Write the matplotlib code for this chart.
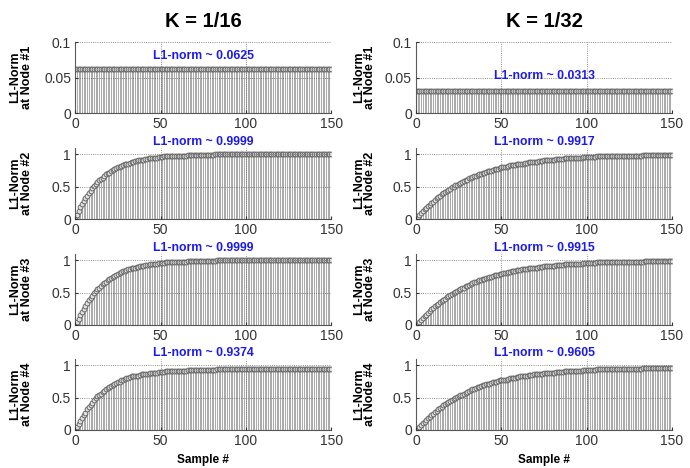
import numpy as np
import matplotlib.pyplot as plt

plt.rcParams['font.family'] = ['Liberation Sans', 'DejaVu Sans']

# ------------ L1-norm per node, sample index 0..150
samples = np.arange(151)

# K = 1/16
k16_node1 = [0.0625] * 151
k16_node2 = ([0.00, 0.06, 0.12, 0.18, 0.23, 0.28, 0.32, 0.36, 0.40, 0.44,
              0.48, 0.51, 0.54, 0.57, 0.60, 0.62, 0.64, 0.67, 0.69, 0.71,
              0.72, 0.74, 0.76, 0.77, 0.79, 0.80, 0.81, 0.82, 0.84, 0.85,
              0.86, 0.86, 0.87, 0.88, 0.89, 0.90, 0.90, 0.91, 0.91, 0.92,
              0.92, 0.93, 0.93, 0.94, 0.94, 0.94, 0.95, 0.95, 0.95, 0.96,
              0.96, 0.96, 0.97, 0.97, 0.97, 0.97, 0.97, 0.97, 0.98, 0.98,
              0.98, 0.98, 0.98, 0.98, 0.98, 0.98]
             + [0.99] * 16 + [1.00] * 69)
k16_node3 = ([0.00, 0.04, 0.10, 0.15, 0.20, 0.25, 0.29, 0.34, 0.38, 0.42,
              0.45, 0.49, 0.52, 0.55, 0.58, 0.60, 0.63, 0.65, 0.67, 0.69,
              0.71, 0.73, 0.75, 0.76, 0.78, 0.79, 0.80, 0.82, 0.83, 0.84,
              0.85, 0.86, 0.87, 0.88, 0.88, 0.89, 0.90, 0.90, 0.91, 0.92,
              0.92, 0.93, 0.93, 0.93, 0.94, 0.94, 0.95, 0.95, 0.95, 0.96,
              0.96, 0.96, 0.96, 0.97, 0.97, 0.97, 0.97, 0.97, 0.98, 0.98,
              0.98, 0.98, 0.98, 0.98, 0.98, 0.98]
             + [0.99] * 17 + [1.00] * 68)
k16_node4 = ([0.00, 0.04, 0.09, 0.14, 0.19, 0.23, 0.27, 0.32, 0.36, 0.39,
              0.42, 0.46, 0.49, 0.52, 0.54, 0.56, 0.59, 0.61, 0.63, 0.65,
              0.67, 0.68, 0.70, 0.71, 0.73, 0.74, 0.75, 0.77, 0.78, 0.79,
              0.80, 0.81, 0.82, 0.83, 0.83, 0.83, 0.84, 0.84, 0.85, 0.86,
              0.86, 0.87, 0.87, 0.87, 0.88, 0.88, 0.89, 0.89, 0.89, 0.90,
              0.90, 0.90, 0.90, 0.91, 0.91, 0.91, 0.91, 0.91, 0.92, 0.92,
              0.92, 0.92, 0.92, 0.92, 0.92, 0.92]
             + [0.93] * 17 + [0.94] * 68)

# K = 1/32
k32_node1 = [0.03125] * 151
k32_node2 = ([0.00, 0.03, 0.06, 0.09, 0.12, 0.15, 0.17, 0.20, 0.22, 0.25,
              0.27, 0.30, 0.32, 0.34, 0.36, 0.38, 0.40, 0.42, 0.44, 0.45,
              0.47, 0.49, 0.50, 0.52, 0.53, 0.55, 0.56, 0.58, 0.59, 0.60,
              0.61, 0.63, 0.64, 0.65, 0.66, 0.67, 0.68, 0.69, 0.70, 0.71,
              0.72, 0.73, 0.74, 0.74, 0.75, 0.76, 0.77, 0.77, 0.78, 0.79,
              0.80, 0.80, 0.81, 0.81, 0.82, 0.83, 0.83, 0.84, 0.84, 0.85,
              0.85, 0.86, 0.86, 0.86, 0.87, 0.87, 0.88, 0.88, 0.88, 0.89,
              0.89, 0.89, 0.90, 0.90, 0.90, 0.91, 0.91, 0.91, 0.92, 0.92,
              0.92, 0.92, 0.93, 0.93, 0.93, 0.93, 0.93, 0.94, 0.94, 0.94,
              0.94, 0.94, 0.95, 0.95, 0.95, 0.95, 0.95, 0.95, 0.96, 0.96,
              0.96, 0.96, 0.96, 0.96, 0.96, 0.96, 0.97, 0.97, 0.97, 0.97,
              0.97, 0.97, 0.97, 0.97, 0.97, 0.97, 0.97]
             + [0.98] * 16 + [0.99] * 18)
k32_node3 = ([0.00, 0.02, 0.05, 0.08, 0.11, 0.14, 0.16, 0.19, 0.21, 0.24,
              0.26, 0.29, 0.31, 0.33, 0.35, 0.37, 0.39, 0.41, 0.43, 0.45,
              0.46, 0.48, 0.50, 0.51, 0.53, 0.54, 0.56, 0.57, 0.58, 0.60,
              0.61, 0.62, 0.64, 0.65, 0.66, 0.67, 0.68, 0.69, 0.70, 0.71,
              0.72, 0.73, 0.73, 0.74, 0.75, 0.76, 0.77, 0.77, 0.78, 0.79,
              0.79, 0.80, 0.81, 0.81, 0.82, 0.82, 0.83, 0.84, 0.84, 0.85,
              0.85, 0.85, 0.86, 0.86, 0.87, 0.87, 0.88, 0.88, 0.88, 0.89,
              0.89, 0.89, 0.90, 0.90, 0.90, 0.91, 0.91, 0.91, 0.92, 0.92,
              0.92, 0.92, 0.93, 0.93, 0.93, 0.93, 0.93, 0.94, 0.94, 0.94,
              0.94, 0.94, 0.95, 0.95, 0.95, 0.95, 0.95, 0.95, 0.96, 0.96,
              0.96, 0.96, 0.96, 0.96, 0.96, 0.96, 0.97, 0.97, 0.97, 0.97,
              0.97, 0.97, 0.97, 0.97, 0.97, 0.97, 0.97]
             + [0.98] * 17 + [0.99] * 17)
k32_node4 = ([0.00, 0.02, 0.05, 0.08, 0.11, 0.13, 0.16, 0.18, 0.20, 0.23,
              0.25, 0.28, 0.30, 0.32, 0.34, 0.36, 0.38, 0.40, 0.42, 0.44,
              0.45, 0.47, 0.48, 0.49, 0.51, 0.52, 0.54, 0.55, 0.56, 0.58,
              0.59, 0.61, 0.62, 0.63, 0.64, 0.65, 0.66, 0.67, 0.68, 0.69,
              0.70, 0.71, 0.72, 0.72, 0.73, 0.74, 0.75, 0.75, 0.76, 0.77,
              0.78, 0.78, 0.78, 0.78, 0.79, 0.80, 0.80, 0.81, 0.81, 0.82,
              0.82, 0.83, 0.83, 0.83, 0.84, 0.84, 0.85, 0.85, 0.85, 0.86,
              0.86, 0.86, 0.87, 0.87, 0.87, 0.88, 0.88, 0.88, 0.89, 0.89,
              0.89, 0.89, 0.90, 0.90, 0.90, 0.90, 0.90, 0.91, 0.91, 0.91,
              0.91, 0.91, 0.92, 0.92, 0.92, 0.92, 0.92, 0.92, 0.93, 0.93,
              0.93, 0.93, 0.93, 0.93, 0.93, 0.93, 0.94, 0.94, 0.94, 0.94,
              0.94, 0.94, 0.94, 0.94, 0.94, 0.94, 0.94, 0.95, 0.95, 0.95]
             + [0.95] * 13 + [0.96] * 18)

columns = [
    ("K = 1/16", [k16_node1, k16_node2, k16_node3, k16_node4],
     ["0.0625", "0.9999", "0.9999", "0.9374"]),
    ("K = 1/32", [k32_node1, k32_node2, k32_node3, k32_node4],
     ["0.0313", "0.9917", "0.9915", "0.9605"]),
]

fig = plt.figure(figsize=(6.9, 4.68), dpi=100)

col_left = [0.109, 0.603]
row_bottom = [0.7585, 0.532, 0.3056, 0.0812]
ax_w, ax_h = 0.371, 0.1517

for c, (title, series, norms) in enumerate(columns):
    fig.text(col_left[c] + ax_w / 2, 0.955, title, ha="center", va="center",
             fontsize=14.5, fontweight="bold")
    for r in range(4):
        ax = fig.add_axes([col_left[c], row_bottom[r], ax_w, ax_h])
        vals = series[r]
        ax.vlines(samples, 0, vals, color="#ababab", linewidth=0.75)
        ax.plot(samples, vals, "o", markersize=3.5, markerfacecolor="#e0e0e0",
                markeredgecolor="#5a5a5a", markeredgewidth=0.6)
        ax.set_xlim(0, 150)
        ax.set_xticks([0, 50, 100, 150])
        if r == 0:
            ax.set_ylim(0, 0.1)
            ax.set_yticks([0, 0.05, 0.1])
            ax.set_yticklabels(["0", "0.05", "0.1"])
            ty = 0.08 if c == 0 else 0.052
        else:
            ax.set_ylim(0, 1.1)
            ax.set_yticks([0, 0.5, 1])
            ax.set_yticklabels(["0", "0.5", "1"])
            ty = 1.19
        ax.text(75, ty, "L1-norm ~ " + norms[r], ha="center", va="center",
                color="#1a1aee", fontsize=8.8, fontweight="bold", clip_on=False)
        ax.grid(True, linestyle=":", color="#666666", linewidth=0.6)
        ax.set_axisbelow(False)
        for s in ["top", "right"]:
            ax.spines[s].set_visible(False)
        for s in ["left", "bottom"]:
            ax.spines[s].set_color("#555555")
            ax.spines[s].set_linewidth(0.8)
        ax.tick_params(direction="in", length=2, labelsize=10, colors="#333333",
                       pad=3)
        ax.set_ylabel(f"L1-Norm\nat Node #{r + 1}", fontsize=9,
                      fontweight="bold", linespacing=0.95)
        ax.yaxis.set_label_coords(-0.165 if c == 0 else -0.155, 0.5)
        if r == 3:
            ax.set_xlabel("Sample #", fontsize=8.5, fontweight="bold", labelpad=4)

fig.savefig("out.png", dpi=100)
